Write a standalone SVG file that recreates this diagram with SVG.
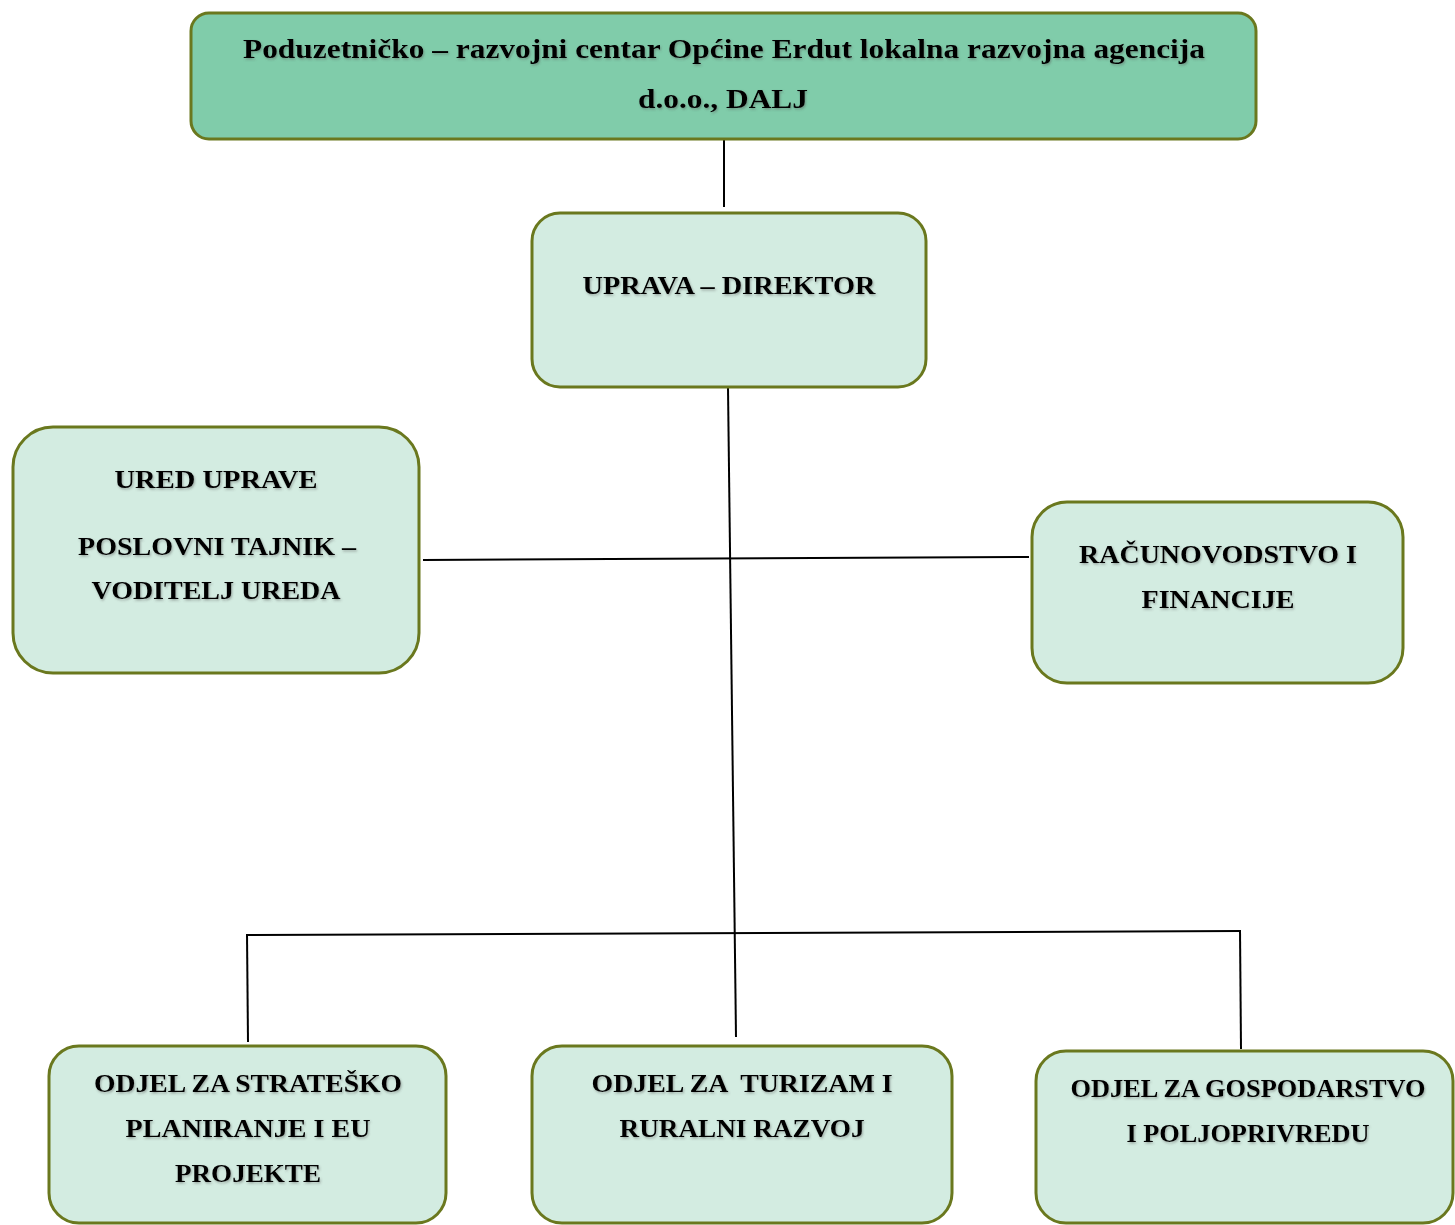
<svg xmlns="http://www.w3.org/2000/svg" width="1455" height="1225" viewBox="0 0 1455 1225">
<style>
.box{fill:#D3ECE1;stroke:#6A781E;stroke-width:3}
.top{fill:#80CCAA;stroke:#6A781E;stroke-width:3}
.t{font-family:"Liberation Serif","DejaVu Serif",serif;font-weight:bold;font-size:26px;fill:#000;text-anchor:middle;filter:url(#sh)}
.tt{font-size:27px}
.c{stroke:#000;stroke-width:2;fill:none}
</style>
<defs>
<filter id="sh" x="-5%" y="-30%" width="110%" height="160%">
<feDropShadow dx="1" dy="1.5" stdDeviation="1" flood-color="#555" flood-opacity="0.45"/>
</filter>
</defs>
<rect width="1455" height="1225" fill="#fff"/>
<g id="connectors">
<line class="c" x1="724" y1="128" x2="724" y2="207"/>
<line class="c" x1="728" y1="388" x2="736" y2="1037"/>
<line class="c" x1="423" y1="560" x2="1029" y2="557"/>
<line class="c" x1="247" y1="935" x2="1240" y2="931"/>
<line class="c" x1="247" y1="934" x2="248" y2="1042"/>
<line class="c" x1="1240" y1="930" x2="1241" y2="1049"/>
</g>
<g id="node-centar">
<rect class="top" x="191" y="13" width="1065" height="126" rx="18"/>
<text class="t tt" x="724" y="58" textLength="962" lengthAdjust="spacingAndGlyphs">Poduzetničko – razvojni centar Općine Erdut lokalna razvojna agencija</text>
<text class="t tt" x="723" y="108" textLength="170" lengthAdjust="spacingAndGlyphs">d.o.o., DALJ</text>
</g>
<g id="node-uprava">
<rect class="box" x="532" y="213" width="394" height="174" rx="28"/>
<text class="t" x="729" y="294" textLength="293" lengthAdjust="spacingAndGlyphs">UPRAVA – DIREKTOR</text>
</g>
<g id="node-ured">
<rect class="box" x="13" y="427" width="406" height="246" rx="40"/>
<text class="t" x="216" y="488" textLength="203" lengthAdjust="spacingAndGlyphs">URED UPRAVE</text>
<text class="t" x="217" y="555" textLength="278" lengthAdjust="spacingAndGlyphs">POSLOVNI TAJNIK –</text>
<text class="t" x="216" y="599" textLength="249" lengthAdjust="spacingAndGlyphs">VODITELJ UREDA</text>
</g>
<g id="node-racunovodstvo">
<rect class="box" x="1032" y="502" width="371" height="181" rx="35"/>
<text class="t" x="1218" y="563" textLength="278" lengthAdjust="spacingAndGlyphs">RAČUNOVODSTVO I</text>
<text class="t" x="1218" y="608" textLength="153" lengthAdjust="spacingAndGlyphs">FINANCIJE</text>
</g>
<g id="node-strateg">
<rect class="box" x="49" y="1046" width="397" height="177" rx="30"/>
<text class="t" x="248" y="1092" textLength="308" lengthAdjust="spacingAndGlyphs">ODJEL ZA STRATEŠKO</text>
<text class="t" x="248" y="1137" textLength="245" lengthAdjust="spacingAndGlyphs">PLANIRANJE I EU</text>
<text class="t" x="248" y="1182" textLength="146" lengthAdjust="spacingAndGlyphs">PROJEKTE</text>
</g>
<g id="node-turizam">
<rect class="box" x="532" y="1046" width="420" height="177" rx="30"/>
<text class="t" x="742" y="1092" xml:space="preserve" textLength="301" lengthAdjust="spacingAndGlyphs">ODJEL ZA  TURIZAM I</text>
<text class="t" x="742" y="1137" textLength="245" lengthAdjust="spacingAndGlyphs">RURALNI RAZVOJ</text>
</g>
<g id="node-gospodarstvo">
<rect class="box" x="1036" y="1051" width="417" height="172" rx="30"/>
<text class="t" x="1248" y="1097" textLength="355" lengthAdjust="spacingAndGlyphs">ODJEL ZA GOSPODARSTVO</text>
<text class="t" x="1248" y="1142" textLength="243" lengthAdjust="spacingAndGlyphs">I POLJOPRIVREDU</text>
</g>
</svg>
